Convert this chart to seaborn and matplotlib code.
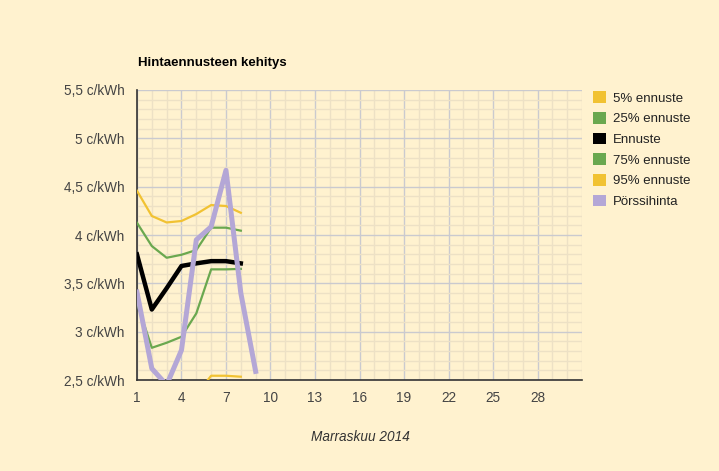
import matplotlib
matplotlib.use("Agg")
import matplotlib.pyplot as plt
from matplotlib.patches import Patch
from matplotlib.ticker import MultipleLocator, FixedLocator, FuncFormatter
import seaborn as sns
import pandas as pd

# data (days of November 2014, c/kWh)
days = [1, 2, 3, 4, 5, 6, 7, 8]
p5 = [2.35, 2.10, 2.15, 2.20, 2.35, 2.545, 2.545, 2.535]
p25 = [3.30, 2.834, 2.886, 2.948, 3.19, 3.645, 3.645, 3.65]
forecast = [3.80, 3.23, 3.45, 3.68, 3.707, 3.73, 3.73, 3.707]
p75 = [4.127, 3.886, 3.765, 3.796, 3.845, 4.076, 4.076, 4.045]
p95 = [4.458, 4.197, 4.13, 4.145, 4.217, 4.31, 4.30, 4.23]
spot_days = [1, 2, 3, 4, 5, 6, 7, 8, 9]
spot = [3.41, 2.62, 2.45, 2.81, 3.95, 4.086, 4.67, 3.40, 2.59]

series_names = ["5% ennuste", "25% ennuste", "Ennuste", "75% ennuste", "95% ennuste", "Pörssihinta"]
colors = ["#f1c232", "#6aa84f", "#000000", "#6aa84f", "#f1c232", "#b4a7d6"]
widths = [1.6, 1.6, 3.2, 1.6, 1.6, 3.6]

bg = "#fff2cf"
plt.rcParams["font.family"] = ["Liberation Sans", "DejaVu Sans"]

fig = plt.figure(figsize=(7.19, 4.71), dpi=100, facecolor=bg)
ax = fig.add_axes([0.1905, 0.193, 0.619, 0.616])
ax.set_facecolor(bg)

values = [p5, p25, forecast, p75, p95]
for name, vals, c, w in zip(series_names[:5], values, colors[:5], widths[:5]):
    df = pd.DataFrame({"day": days, "value": vals})
    sns.lineplot(data=df, x="day", y="value", color=c, linewidth=w, ax=ax,
                 legend=False, zorder=3)
df_spot = pd.DataFrame({"day": spot_days, "value": spot})
sns.lineplot(data=df_spot, x="day", y="value", color=colors[5], linewidth=widths[5],
             ax=ax, legend=False, zorder=4)

ax.set_xlim(1, 31)
ax.set_ylim(2.5, 5.5)
ax.xaxis.set_major_locator(FixedLocator(list(range(1, 30, 3))))
ax.xaxis.set_minor_locator(MultipleLocator(1))
ax.yaxis.set_major_locator(MultipleLocator(0.5))
ax.yaxis.set_minor_locator(MultipleLocator(0.1))
ax.yaxis.set_major_formatter(FuncFormatter(lambda v, p: f"{v:g} c/kWh".replace(".", ",")))

ax.grid(which="minor", color="#ede1c5", linewidth=1.0, zorder=0)
ax.grid(which="major", color="#cacacf", linewidth=1.0, zorder=1)
ax.set_axisbelow(True)
ax.tick_params(which="both", length=0)
ax.tick_params(axis="y", pad=9, labelsize=9.8, labelcolor="#444444")
ax.tick_params(axis="x", pad=8, labelsize=9.8, labelcolor="#444444")
for s in ["top", "right"]:
    ax.spines[s].set_visible(False)
for s in ["left", "bottom"]:
    ax.spines[s].set_color("#333333")
    ax.spines[s].set_linewidth(1.2)

ax.set_xlabel("")
ax.set_ylabel("")
fig.text(138 / 719, 1 - 63 / 471, "Hintaennusteen kehitys", fontsize=9.5,
         fontweight="bold", color="#000000", ha="left", va="center")
fig.text(360 / 719, 1 - 437 / 471, "Marraskuu 2014", fontsize=9.8,
         style="italic", color="#333333", ha="center", va="center")

handles = [Patch(facecolor=c, edgecolor="none") for c in colors]
fig.legend(handles, series_names, loc="upper left",
           bbox_to_anchor=(588 / 719, 1 - 86 / 471), frameon=False,
           fontsize=9.5, handlelength=1.0, handleheight=1.0, handletextpad=0.5,
           labelspacing=0.55, borderaxespad=0, labelcolor="#222222")

fig.savefig("out.png", dpi=100, facecolor=bg)
